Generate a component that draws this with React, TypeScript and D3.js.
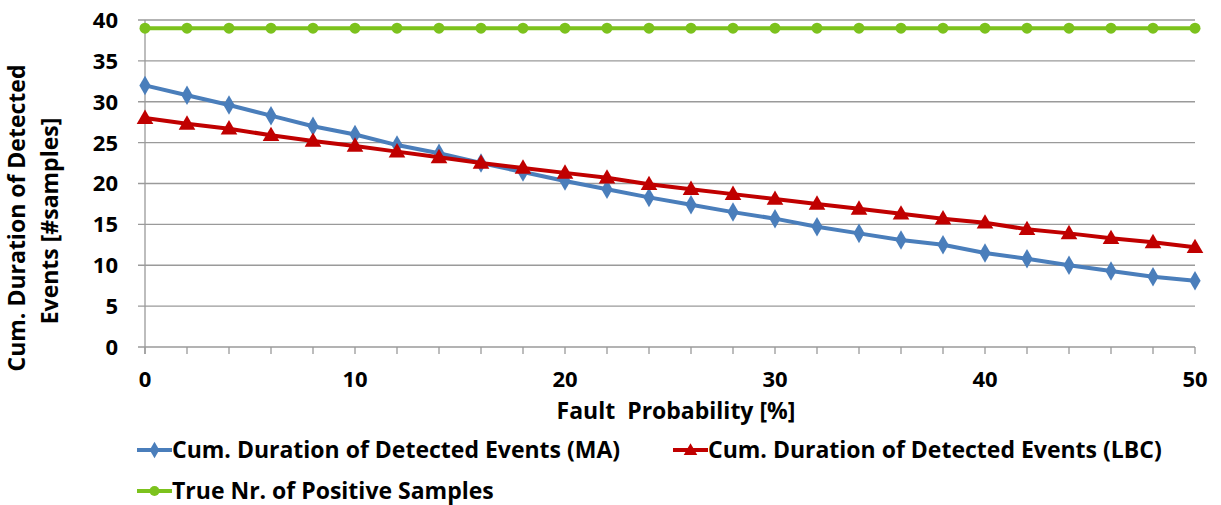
import * as d3 from "d3";

const faultProb = [0, 2, 4, 6, 8, 10, 12, 14, 16, 18, 20, 22, 24, 26, 28, 30, 32, 34, 36, 38, 40, 42, 44, 46, 48, 50];
const maValues = [32.0, 30.8, 29.6, 28.3, 27.0, 26.0, 24.7, 23.7, 22.5, 21.4, 20.3, 19.3, 18.3, 17.4, 16.5, 15.7, 14.7, 13.9, 13.1, 12.5, 11.5, 10.8, 10.0, 9.3, 8.6, 8.1];
const lbcValues = [28.0, 27.3, 26.7, 25.9, 25.2, 24.6, 23.9, 23.2, 22.5, 21.9, 21.3, 20.7, 19.9, 19.3, 18.7, 18.1, 17.5, 16.9, 16.3, 15.7, 15.2, 14.4, 13.9, 13.3, 12.8, 12.2];
const trueValues = [39, 39, 39, 39, 39, 39, 39, 39, 39, 39, 39, 39, 39, 39, 39, 39, 39, 39, 39, 39, 39, 39, 39, 39, 39, 39];
const yTicks = [0, 5, 10, 15, 20, 25, 30, 35, 40];
const xTicks = [0, 10, 20, 30, 40, 50];

const seriesNames = [
  "Cum. Duration of Detected Events (MA)",
  "Cum. Duration of Detected Events (LBC)",
  "True Nr. of Positive Samples",
];
const colors = ["#4A7EBB", "#C00000", "#7CC21D"];

const W = 1221;
const H = 505;
const FONT = "'Open Sans', Lato, sans-serif";
const FS = 23;
const TICK_FS = 22;

function Marker({ kind, x, y, color, small }: { kind: string; x: number; y: number; color: string; small?: boolean }) {
  if (kind === "diamond") {
    const s = d3.symbol(d3.symbolDiamond, small ? 80 : 110)();
    return <path d={s!} transform={`translate(${x},${y})`} fill={color} />;
  }
  if (kind === "triangle") {
    const s = d3.symbol(d3.symbolTriangle, small ? 80 : 120)();
    return <path d={s!} transform={`translate(${x},${y + 1})`} fill={color} />;
  }
  return <circle cx={x} cy={y} r={small ? 5 : 5.5} fill={color} />;
}

export default function App() {
  const left = 145;
  const right = 1195;
  const top = 20;
  const bottom = 347;

  const x = d3.scaleLinear().domain([0, 50]).range([left, right]);
  const y = d3.scaleLinear().domain([0, 40]).range([bottom, top]);

  const line = d3
    .line<number>()
    .x((_, i) => x(faultProb[i]))
    .y((d) => y(d));

  const series = [
    { vals: maValues, kind: "diamond" },
    { vals: lbcValues, kind: "triangle" },
    { vals: trueValues, kind: "circle" },
  ];

  // legend layout
  const legend = [
    { lx: 137, ly: 450 },
    { lx: 673, ly: 450 },
    { lx: 137, ly: 491 },
  ];

  return (
    <svg
      width={W}
      height={H}
      style={{ position: "absolute", left: 0, top: 0, background: "#fff" }}
      fontFamily={FONT}
    >
      {/* gridlines */}
      {yTicks.map((t) => (
        <line key={"g" + t} x1={left - 7} x2={right} y1={y(t)} y2={y(t)} stroke="#9a9a9a" strokeWidth={1.3} />
      ))}
      {/* y axis */}
      <line x1={left} x2={left} y1={top} y2={bottom + 7} stroke="#9a9a9a" strokeWidth={1.3} />
      {/* x ticks */}
      {faultProb.map((t) => (
        <line key={"xt" + t} x1={x(t)} x2={x(t)} y1={bottom} y2={bottom + 7} stroke="#9a9a9a" strokeWidth={1.3} />
      ))}
      {yTicks.map((t) => (
        <text key={"yl" + t} x={left - 27} y={y(t)} dy="0.36em" textAnchor="end" fontSize={TICK_FS} fontWeight="bold" fill="#000">
          {t}
        </text>
      ))}
      {xTicks.map((t) => (
        <text key={"xl" + t} x={x(t)} y={387} textAnchor="middle" fontSize={TICK_FS} fontWeight="bold" fill="#000">
          {t}
        </text>
      ))}
      <text x={676} y={419} textAnchor="middle" fontSize={FS} fontWeight="bold" fill="#000" xmlSpace="preserve">
        Fault  Probability [%]
      </text>
      <text transform={`translate(25,218) rotate(-90)`} textAnchor="middle" fontSize={FS} fontWeight="bold" fill="#000">
        Cum. Duration of Detected
      </text>
      <text transform={`translate(58,221) rotate(-90)`} textAnchor="middle" fontSize={FS} fontWeight="bold" fill="#000">
        Events [#samples]
      </text>

      {series.map((s, si) => (
        <g key={"s" + si}>
          <path d={line(s.vals)!} fill="none" stroke={colors[si]} strokeWidth={4} strokeLinejoin="round" />
          {s.vals.map((v, i) => (
            <Marker key={i} kind={s.kind} x={x(faultProb[i])} y={y(v)} color={colors[si]} />
          ))}
        </g>
      ))}

      {series.map((s, si) => (
        <g key={"l" + si} transform={`translate(${legend[si].lx},${legend[si].ly})`}>
          <line x1={0} x2={35} y1={0} y2={0} stroke={colors[si]} strokeWidth={4} />
          <Marker kind={s.kind} x={17.5} y={0} color={colors[si]} small />
          <text x={35} y={0} dy="0.36em" fontSize={FS} fontWeight="bold" fill="#000">
            {seriesNames[si]}
          </text>
        </g>
      ))}
    </svg>
  );
}
